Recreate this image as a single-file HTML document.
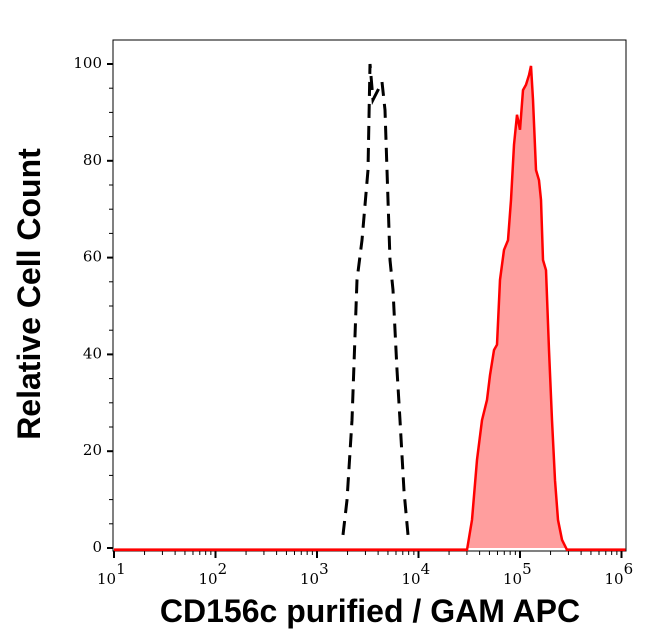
<!DOCTYPE html>
<html><head><meta charset="utf-8"><style>
html,body{margin:0;padding:0;background:#fff;width:646px;height:641px;overflow:hidden}
svg{display:block}
.tk{font-family:"DejaVu Serif","Liberation Serif",serif;font-size:15px;fill:#000}
.tt{font-family:"Liberation Sans",sans-serif;font-weight:bold;font-size:32px;fill:#000}
</style></head><body>
<svg id="chart" width="646" height="641">
<rect x="113" y="40" width="513" height="511" fill="none" stroke="#000" stroke-width="1"/>
<g id="axes"></g>
<path id="red-fill" fill="#ff9e9e" stroke="none"/>
<path id="red-line" fill="none" stroke="#ff0000" stroke-width="2.5"/>
<path id="ctrl-line" fill="none" stroke="#000" stroke-width="3" stroke-dasharray="14,8"/>
<text class="tt" x="370" y="622" text-anchor="middle">CD156c purified / GAM APC</text>
<text class="tt" transform="translate(40,294) rotate(-90)" text-anchor="middle">Relative Cell Count</text>
</svg>
<script>
const ctrlLog=[3.256,3.296,3.345,3.394,3.443,3.502,3.522,3.552,3.601,3.640,3.670,3.719,3.749,3.788,3.818,3.857,3.897];
const ctrlCount=[2.7,9.9,26.4,55.4,63.6,78.1,100,92.6,94.6,96.3,90.5,59.5,53.3,36.8,26.4,11.8,2.7];
const redLog=[1.0,4.478,4.527,4.576,4.626,4.675,4.704,4.744,4.773,4.803,4.842,4.882,4.911,4.941,4.970,5.0,5.030,5.059,5.089,5.108,5.128,5.158,5.187,5.207,5.227,5.256,5.286,5.315,5.345,5.374,5.414,5.463,6.04];
const redCount=[-0.4,-0.4,5.8,18.2,26.4,30.6,35.7,40.9,42.0,55.4,61.6,63.6,71.9,83.3,89.5,86.4,94.6,95.7,97.7,99.6,92.6,78.1,76.0,71.9,59.5,57.4,40.9,26.4,14.0,5.8,1.7,-0.4,-0.4];
const yTicks=[0,20,40,60,80,100];
const xDecades=[1,2,3,4,5,6];
const sx=l=>114+(l-1)*101.5;
const sy=c=>548-c*4.84;
const NS="http://www.w3.org/2000/svg";
const ax=document.getElementById('axes');
function mk(t,a){const e=document.createElementNS(NS,t);for(const k in a)e.setAttribute(k,a[k]);return e;}
for(let v=0;v<=100;v+=5){
  const major=yTicks.includes(v);
  const l=mk('line',{x1:major?107:109,x2:113,y1:sy(v),y2:sy(v),stroke:'#000','stroke-width':major?2:1});
  
  
  ax.appendChild(l);
}
yTicks.forEach(v=>{const t=mk('text',{x:102,y:sy(v)+4,'text-anchor':'end',class:'tk'});t.textContent=v;
  
  
  ax.appendChild(t);});
xDecades.forEach((d,i)=>{
  const l=mk('line',{x1:sx(d),x2:sx(d),y1:551,y2:558,stroke:'#000','stroke-width':2});
  
  
  ax.appendChild(l);
  if(i<xDecades.length-1){for(let m=2;m<10;m++){const x=sx(d+Math.log10(m));
    const mm=mk('line',{x1:x,x2:x,y1:551,y2:555,stroke:'#000','stroke-width':1});
    
    
    ax.appendChild(mm);}}
  const t=mk('text',{x:sx(d)-17,y:584,class:'tk'});
  
  
  t.innerHTML='10<tspan dy="-10" font-size="15">'+d+'</tspan>';
  ax.appendChild(t);
});
let p='';redLog.forEach((l,i)=>{p+=(i?'L':'M')+sx(l).toFixed(1)+','+sy(redCount[i]).toFixed(1);});
document.getElementById('red-line').setAttribute('d',p);
document.getElementById('red-fill').setAttribute('d',p+'L'+sx(redLog[redLog.length-1])+','+sy(0)+'L'+sx(redLog[0])+','+sy(0)+'Z');
let q='';ctrlLog.forEach((l,i)=>{q+=(i?'L':'M')+sx(l).toFixed(1)+','+sy(ctrlCount[i]).toFixed(1);});
document.getElementById('ctrl-line').setAttribute('d',q);
</script>
</body></html>
